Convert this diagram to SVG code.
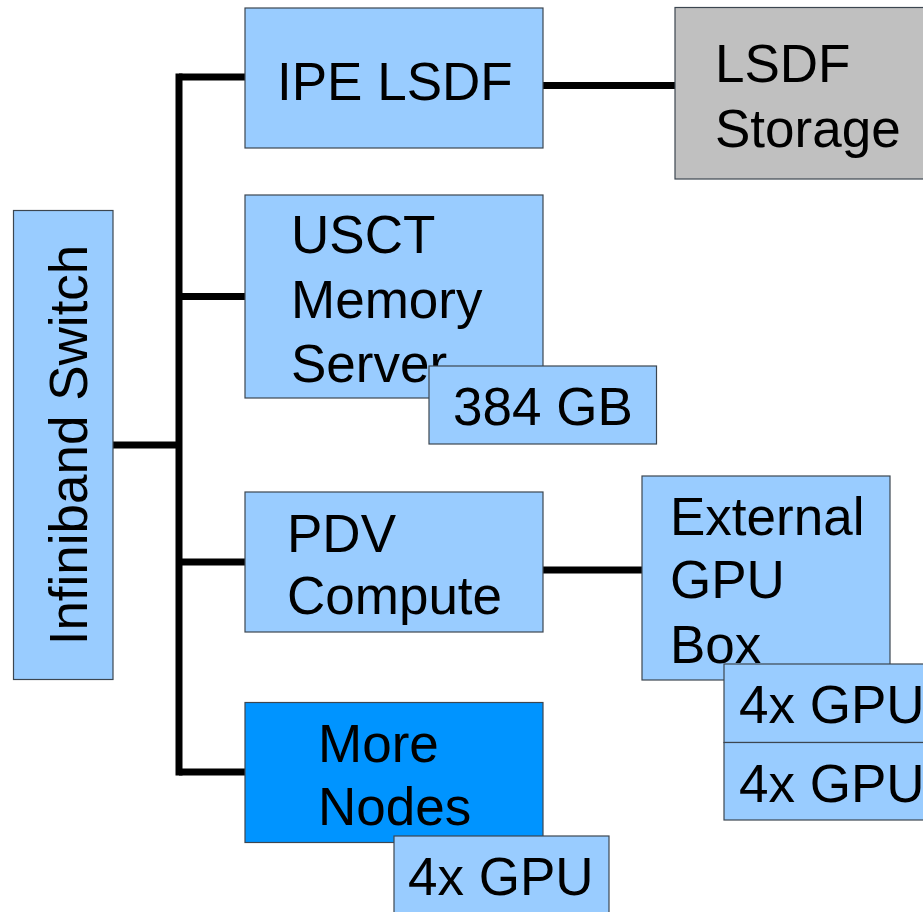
<svg xmlns="http://www.w3.org/2000/svg" width="923" height="912" viewBox="0 0 923 912">
<style>
.box{fill:#99ccff;stroke:#3c4650;stroke-width:1.2}
.grey{fill:#c0c0c0;stroke:#3c4650;stroke-width:1.2}
.dark{fill:#0094ff;stroke:#3c4650;stroke-width:1.2}
.t{font-family:"Liberation Sans",Arial,sans-serif;font-size:53px;fill:#000}
.c{stroke:#000;stroke-width:7;fill:none}
</style>
<rect width="923" height="912" fill="#fff"/>
<g id="connectors">
<line class="c" x1="179" y1="73.5" x2="179" y2="775.5"/>
<line class="c" x1="113" y1="445" x2="179" y2="445"/>
<line class="c" x1="179" y1="77" x2="245" y2="77"/>
<line class="c" x1="179" y1="296.5" x2="245" y2="296.5"/>
<line class="c" x1="179" y1="562" x2="245" y2="562"/>
<line class="c" x1="179" y1="772" x2="245" y2="772"/>
<line class="c" x1="543" y1="85.5" x2="675" y2="85.5"/>
<line class="c" x1="543" y1="570" x2="642" y2="570"/>
</g>
<g id="switch">
<rect class="box" x="13.5" y="210.5" width="99.5" height="469"/>
<text class="t" transform="translate(87,445) rotate(-90)" text-anchor="middle">Infiniband Switch</text>
</g>
<g id="ipe-lsdf">
<rect class="box" x="245" y="8" width="298" height="140"/>
<text class="t" x="277" y="100">IPE LSDF</text>
</g>
<g id="lsdf-storage">
<rect class="grey" x="675" y="7.5" width="250" height="171.5"/>
<text class="t" x="715" y="82">LSDF</text>
<text class="t" x="715" y="147">Storage</text>
</g>
<g id="usct">
<rect class="box" x="245" y="195" width="298" height="203"/>
<text class="t" x="291" y="253">USCT</text>
<text class="t" x="291" y="318">Memory</text>
<text class="t" x="291" y="382">Server</text>
</g>
<g id="mem384">
<rect class="box" x="429" y="366" width="227.5" height="78"/>
<text class="t" x="453" y="425">384 GB</text>
</g>
<g id="pdv">
<rect class="box" x="245" y="492" width="298" height="140"/>
<text class="t" x="287" y="552">PDV</text>
<text class="t" x="287" y="614">Compute</text>
</g>
<g id="ext-gpu">
<rect class="box" x="642" y="476" width="248" height="204"/>
<text class="t" x="670" y="535">External</text>
<text class="t" x="670" y="598">GPU</text>
<text class="t" x="670" y="663">Box</text>
</g>
<g id="gpu1">
<rect class="box" x="724" y="664" width="205" height="78.5"/>
<text class="t" x="739" y="723">4x GPU</text>
</g>
<g id="gpu2">
<rect class="box" x="724" y="742.5" width="205" height="77.5"/>
<text class="t" x="739" y="801.5">4x GPU</text>
</g>
<g id="more-nodes">
<rect class="dark" x="245" y="702.5" width="298" height="140"/>
<text class="t" x="318" y="762">More</text>
<text class="t" x="318" y="825">Nodes</text>
</g>
<g id="gpu3">
<rect class="box" x="394" y="836" width="215" height="85"/>
<text class="t" x="408" y="895">4x GPU</text>
</g>
</svg>
